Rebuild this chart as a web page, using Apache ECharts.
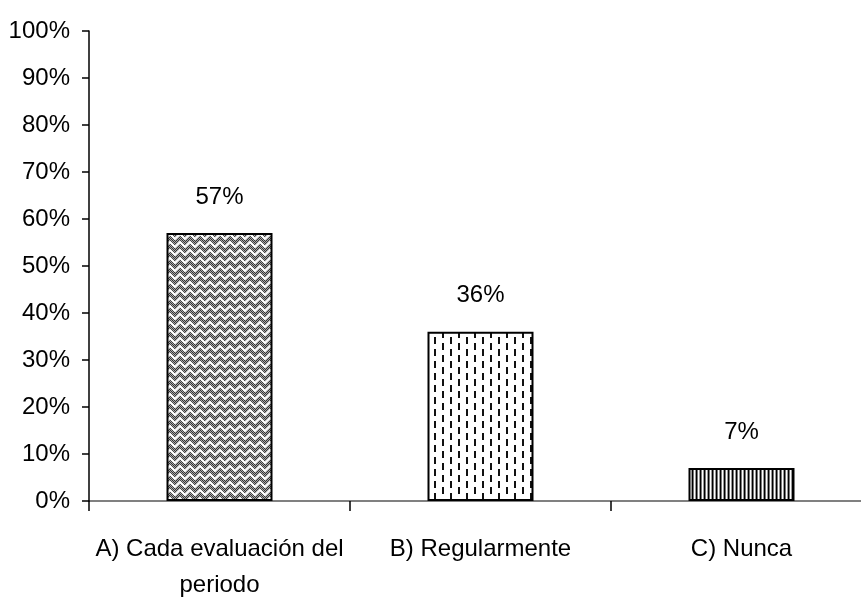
<!DOCTYPE html>
<html>
<head>
<meta charset="utf-8">
<script src="https://cdn.jsdelivr.net/npm/echarts@6/dist/echarts.min.js"></script>
<style>html,body{margin:0;padding:0;background:#fff;}#c{width:861px;height:601px;}</style>
</head>
<body>
<div id="c"></div>
<script>
const categories = ['A) Cada evaluación del\nperiodo', 'B) Regularmente', 'C) Nunca'];
const values = [57, 36, 7];
const yTicks = [0, 10, 20, 30, 40, 50, 60, 70, 80, 90, 100];

function makeTile(w, h, draw) {
  const c = document.createElement('canvas');
  c.width = w; c.height = h;
  const ctx = c.getContext('2d');
  ctx.fillStyle = '#fff';
  ctx.fillRect(0, 0, w, h);
  draw(ctx, w, h);
  return c;
}
// A: herringbone weave
const tileA = makeTile(10, 8, (ctx, w, h) => {
  for (let y = 0; y < h; y++) for (let x = 0; x < w; x++) {
    ctx.fillStyle = ((x + y) % 2 === 0) ? '#333' : '#aaa';
    ctx.fillRect(x, y, 1, 1);
  }
  ctx.strokeStyle = '#fff';
  ctx.lineWidth = 2;
  ctx.beginPath();
  ctx.moveTo(-1, 1); ctx.lineTo(5, 7); ctx.lineTo(11, 1);
  ctx.stroke();
});
// B: staggered short dashes
const tileB = makeTile(16, 12, (ctx) => {
  ctx.fillStyle = '#111';
  ctx.fillRect(2, 1, 2, 7);
  ctx.fillRect(10, 7, 2, 7);
  ctx.fillRect(10, -5, 2, 7);
});
// C: vertical stripes
const tileC = makeTile(4, 4, (ctx) => {
  ctx.fillStyle = '#000'; ctx.fillRect(0, 0, 1, 4);
  ctx.fillStyle = '#777'; ctx.fillRect(1, 0, 1, 4);
  ctx.fillStyle = '#fff'; ctx.fillRect(2, 0, 1, 4);
  ctx.fillStyle = '#999'; ctx.fillRect(3, 0, 1, 4);
});
const tiles = [tileA, tileB, tileC];

const FONT = '"Liberation Sans", Arial, sans-serif';

const chart = echarts.init(document.getElementById('c'), null, {renderer: 'canvas'});
chart.setOption({
  animation: false,
  backgroundColor: '#fff',
  grid: {left: 89, right: -11, top: 31, bottom: 100, containLabel: false, outerBoundsMode: 'none'},
  xAxis: {
    type: 'category',
    data: categories,
    axisLine: {lineStyle: {color: '#808080', width: 2}},
    axisTick: {show: true, length: 10, lineStyle: {color: '#000', width: 1.5}},
    axisLabel: {
      color: '#000', fontFamily: FONT, fontSize: 24, lineHeight: 36,
      margin: 30, interval: 0
    },
    z: 1
  },
  yAxis: {
    type: 'value',
    min: 0, max: 100, interval: 10,
    axisLine: {show: true, lineStyle: {color: '#000', width: 1.5}},
    axisTick: {show: true, length: 7, lineStyle: {color: '#000', width: 1.5}},
    splitLine: {show: false},
    axisLabel: {
      color: '#000', fontFamily: FONT, fontSize: 24, margin: 19,
      formatter: v => yTicks.includes(v) ? v + '%' : ''
    },
    z: 3
  },
  series: [{
    type: 'bar',
    barWidth: 106,
    data: values.map((v, i) => ({
      value: v,
      itemStyle: {color: {image: tiles[i], repeat: 'repeat'}, borderColor: '#000', borderWidth: 2}
    })),
    label: {
      show: true, position: 'top', distance: 24,
      color: '#000', fontFamily: FONT, fontSize: 24,
      formatter: p => p.value + '%'
    },
    z: 2
  }]
});
</script>
</body>
</html>
